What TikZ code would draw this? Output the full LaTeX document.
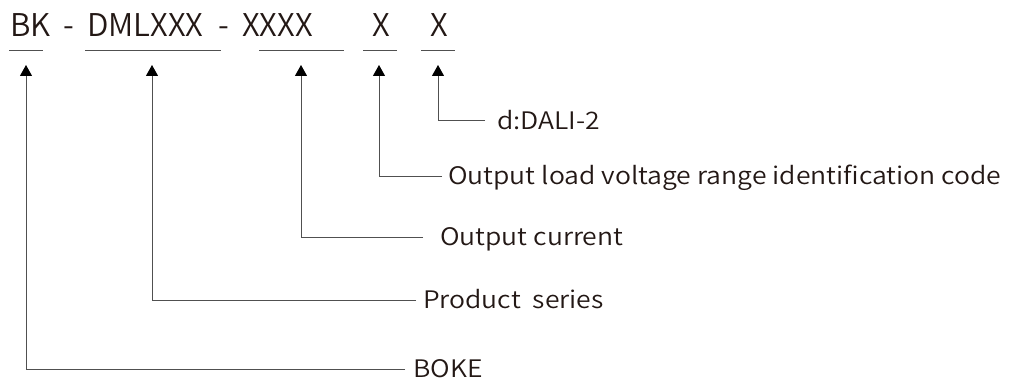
\documentclass[tikz,border=0pt]{standalone}
\usepackage{fontspec}
\setmainfont{Noto Sans CJK SC}[UprightFont=* DemiLight]
\newfontfamily\descfont{Noto Sans CJK SC}[UprightFont=* DemiLight, FakeStretch=1.1]
\usepackage{xcolor}
\usetikzlibrary{arrows.meta}
\definecolor{ink}{HTML}{231815}
\definecolor{rule}{HTML}{505050}
\tikzset{
  code/.style={inner sep=0pt, anchor=base west, text=ink, font=\fontsize{23.5}{26}\selectfont},
  desc/.style={inner sep=0pt, anchor=west, text=ink, text height=13.3pt, text depth=0pt, font=\descfont\fontsize{18.1}{21}\selectfont},
  uline/.style={draw=rule, line width=0.75pt},
  link/.style={draw=rule, line width=0.75pt, -{Triangle[width=9pt,length=8.25pt,color=black]}}
}
\begin{document}
\begin{tikzpicture}[x=0.75pt,y=-0.75pt]
        \useasboundingbox (0,0) rectangle (1016,381);

        \node[code] (C_1) at (10,37) {BK};
        \node[code] (H_1) at (63,37) {-};
        \node[code] (C_2) at (87,37) {DMLXXX};
        \node[code] (H_2) at (218,37) {-};
        \node[code] (C_3) at (242,37) {XXXX};
        \node[code] (C_4) at (372,37) {X};
        \node[code] (C_5) at (430,37) {X};

        \draw[uline] (9,51) -- (43,51);
        \draw[uline] (85,51) -- (221,51);
        \draw[uline] (259,51) -- (344,51);
        \draw[uline] (363,51) -- (397,51);
        \draw[uline] (421,51) -- (455,51);

        \coordinate (T_1) at (26,65);
        \coordinate (T_2) at (152,65);
        \coordinate (T_3) at (301,65);
        \coordinate (T_4) at (379,65);
        \coordinate (T_5) at (438,65);

        \node[desc] (L_5) at (497,121) {d:DALI-2};
        \node[desc] (L_4) at (448,176) {Output load voltage range identification code};
        \node[desc] (L_3) at (440,237) {Output current};
        \node[desc] (L_2) at (423,300) {Product\ \ series};
        \node[desc] (L_1) at (413,369) {BOKE};

        \draw[link] ([xshift=-9pt]L_5.west) -| (T_5);
        \draw[link] ([xshift=-4.5pt]L_4.west) -| (T_4);
        \draw[link] ([xshift=-12.75pt]L_3.west) -| (T_3);
        \draw[link] ([xshift=-5.25pt]L_2.west) -| (T_2);
        \draw[link] ([xshift=-6pt]L_1.west) -| (T_1);
\end{tikzpicture}
\end{document}
